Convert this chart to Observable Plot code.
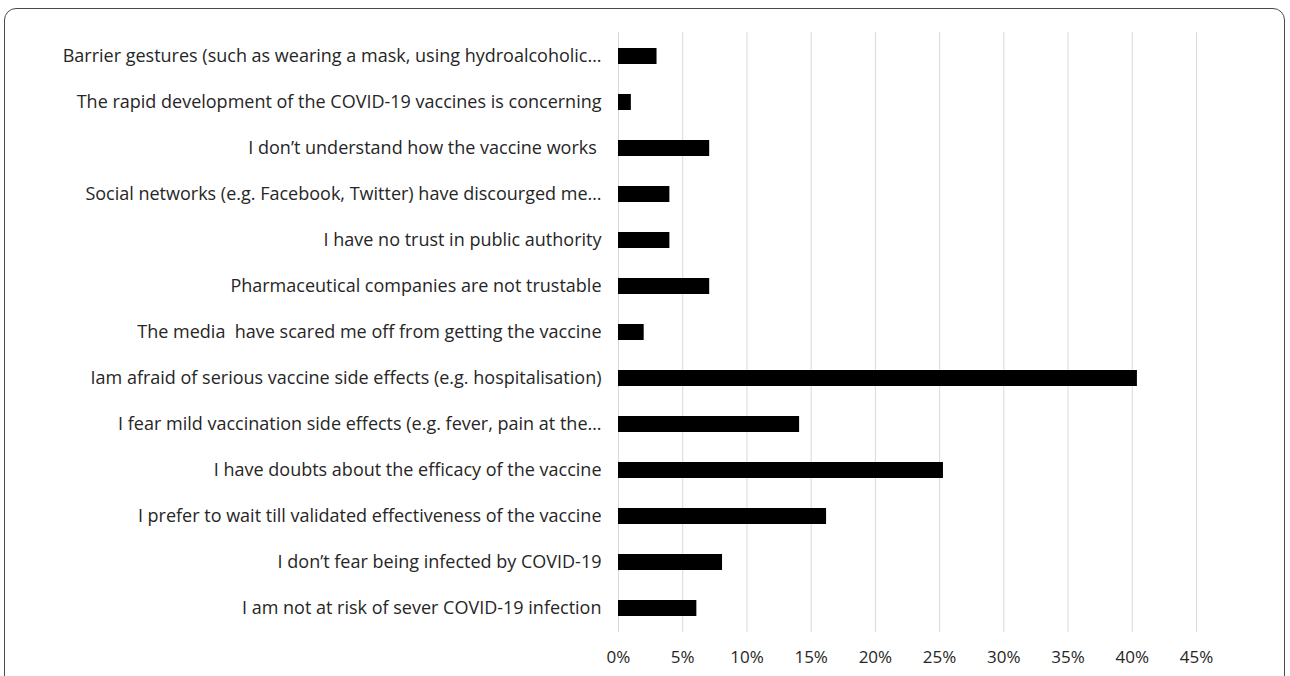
<!DOCTYPE html>
<html>
<head>
<meta charset="utf-8">
<script src="https://cdn.jsdelivr.net/npm/d3@7"></script>
<script src="https://cdn.jsdelivr.net/npm/@observablehq/plot@0.6"></script>
<style>
  html, body { margin: 0; padding: 0; background: #fff; width: 1290px; height: 676px; overflow: hidden; }
  #frame { position: absolute; left: 4px; top: 8px; width: 1281px; height: 720px; border: 1.5px solid #4a4a4a; border-radius: 12px; box-sizing: border-box; }
  #chart { position: absolute; left: 0; top: 0; }
  #chart svg text { white-space: pre; }
</style>
</head>
<body>
<div id="frame"></div>
<div id="chart"></div>
<script>
const reasons = [
  "Barrier gestures (such as wearing a mask, using hydroalcoholic…",
  "The rapid development of the COVID-19 vaccines is concerning",
  "I don’t understand how the vaccine works ",
  "Social networks (e.g. Facebook, Twitter) have discourged me…",
  "I have no trust in public authority",
  "Pharmaceutical companies are not trustable",
  "The media  have scared me off from getting the vaccine",
  "Iam afraid of serious vaccine side effects (e.g. hospitalisation)",
  "I fear mild vaccination side effects (e.g. fever, pain at the…",
  "I have doubts about the efficacy of the vaccine",
  "I prefer to wait till validated effectiveness of the vaccine",
  "I don’t fear being infected by COVID-19",
  "I am not at risk of sever COVID-19 infection"
];
const shares = [0.030, 0.010, 0.071, 0.040, 0.040, 0.071, 0.020, 0.404, 0.141, 0.253, 0.162, 0.081, 0.061];
const xTicks = [0, 0.05, 0.10, 0.15, 0.20, 0.25, 0.30, 0.35, 0.40, 0.45];

const data = reasons.map((r, i) => ({reason: r, share: shares[i]}));

const chart = Plot.plot({
  width: 1290,
  height: 676,
  marginLeft: 618,
  marginRight: 94,
  marginTop: 32,
  marginBottom: 44,
  style: {fontFamily: "'Open Sans', sans-serif", fontSize: "18px", color: "#262626", background: "transparent"},
  x: {domain: [0, 0.45], ticks: xTicks, tickFormat: d => Math.round(d * 100) + "%", label: null},
  y: {domain: reasons, padding: 0, label: null},
  marks: [
    Plot.gridX(xTicks, {stroke: "#d9d9d9", strokeOpacity: 1, strokeWidth: 1}),
    Plot.barX(data, {x: "share", y: "reason", fill: "#000", insetTop: 15, insetBottom: 15}),
    Plot.axisX(xTicks, {tickSize: 0, tickPadding: 18, tickFormat: d => Math.round(d * 100) + "%", label: null, fontSize: 17}),
    Plot.axisY({tickSize: 0, tickPadding: 17, label: null, fontSize: 18})
  ]
});
document.getElementById("chart").appendChild(chart);
</script>
</body>
</html>
